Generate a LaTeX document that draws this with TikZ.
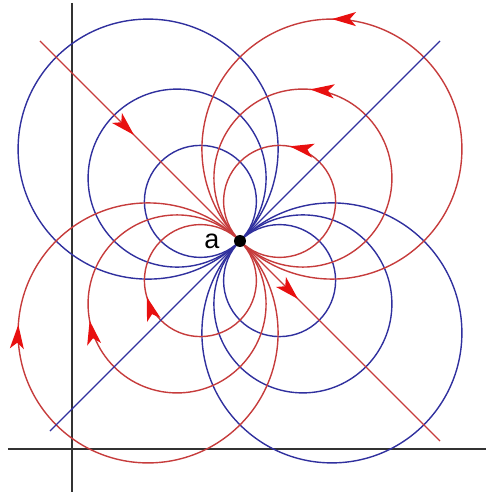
\documentclass[tikz,border=0pt]{standalone}
\usepackage{fontspec}
\newfontfamily\lblfont{Liberation Sans}
\usetikzlibrary{arrows.meta,positioning,decorations.markings}
\definecolor{fieldblue}{HTML}{30309E}
\definecolor{fieldred}{HTML}{C63C3C}
\definecolor{tipred}{HTML}{E81010}
\definecolor{axisgray}{HTML}{333333}

\begin{document}
\begin{tikzpicture}[x=1pt, y=1pt,
    axis/.style={draw=axisgray, line width=1.4pt},
    bline/.style={draw=fieldblue, line width=1.4pt},
    rline/.style={draw=fieldred, line width=1.4pt},
    tipat/.style={postaction={decorate}, decoration={markings,
                  mark=at position #1 with {\arrow[tipred]{Stealth[length=24pt, width=14pt, inset=6pt]}}}},
    charge/.style={circle, fill=black, inner sep=0pt, minimum size=12pt},
    lbl/.style={font=\lblfont\fontsize{27}{29}\selectfont, text=black}
  ]
  \useasboundingbox (-240,-254) rectangle (248,241);

  % axes
  \coordinate (ytop) at (-168,238);
  \coordinate (ybot) at (-168,-251);
  \coordinate (xleft) at (-232,-208);
  \coordinate (xright) at (246,-208);
  \draw[axis] (ytop) -- (ybot);
  \draw[axis] (xleft) -- (xright);

  \coordinate (a0) at (0,0);

  % blue circles, upper left and lower right
  \draw[bline] (-39.6,39.6) circle (56);
  \draw[bline] (-62.9,62.9) circle (89);
  \draw[bline] (-91.9,91.9) circle (130);
  \draw[bline] (39.6,-39.6) circle (56);
  \draw[bline] (62.9,-62.9) circle (89);
  \draw[bline] (91.9,-91.9) circle (130);

  % red circles, upper right (counterclockwise) and lower left (clockwise)
  \draw[rline, tipat=0.596] (a0) arc[start angle=225, end angle=585, radius=56];
  \draw[rline, tipat=0.612] (a0) arc[start angle=225, end angle=585, radius=89];
  \draw[rline, tipat=0.625] (a0) arc[start angle=225, end angle=585, radius=130];
  \draw[rline, tipat=0.578] (a0) arc[start angle=45, end angle=-315, radius=56];
  \draw[rline, tipat=0.595] (a0) arc[start angle=45, end angle=-315, radius=89];
  \draw[rline, tipat=0.635] (a0) arc[start angle=45, end angle=-315, radius=130];

  % diagonals
  \coordinate (bll) at (-190,-190);
  \coordinate (bur) at (200,200);
  \coordinate (rul) at (-200,200);
  \coordinate (rlr) at (200,-200);
  \draw[bline] (bll) -- (bur);
  \draw[rline, tipat=0.47] (rul) -- (a0);
  \draw[rline, tipat=0.29] (a0) -- (rlr);

  \node[charge] (a) at (a0) {};
  \node[lbl, left=11pt of a] (alabel) {a};
\end{tikzpicture}
\end{document}
